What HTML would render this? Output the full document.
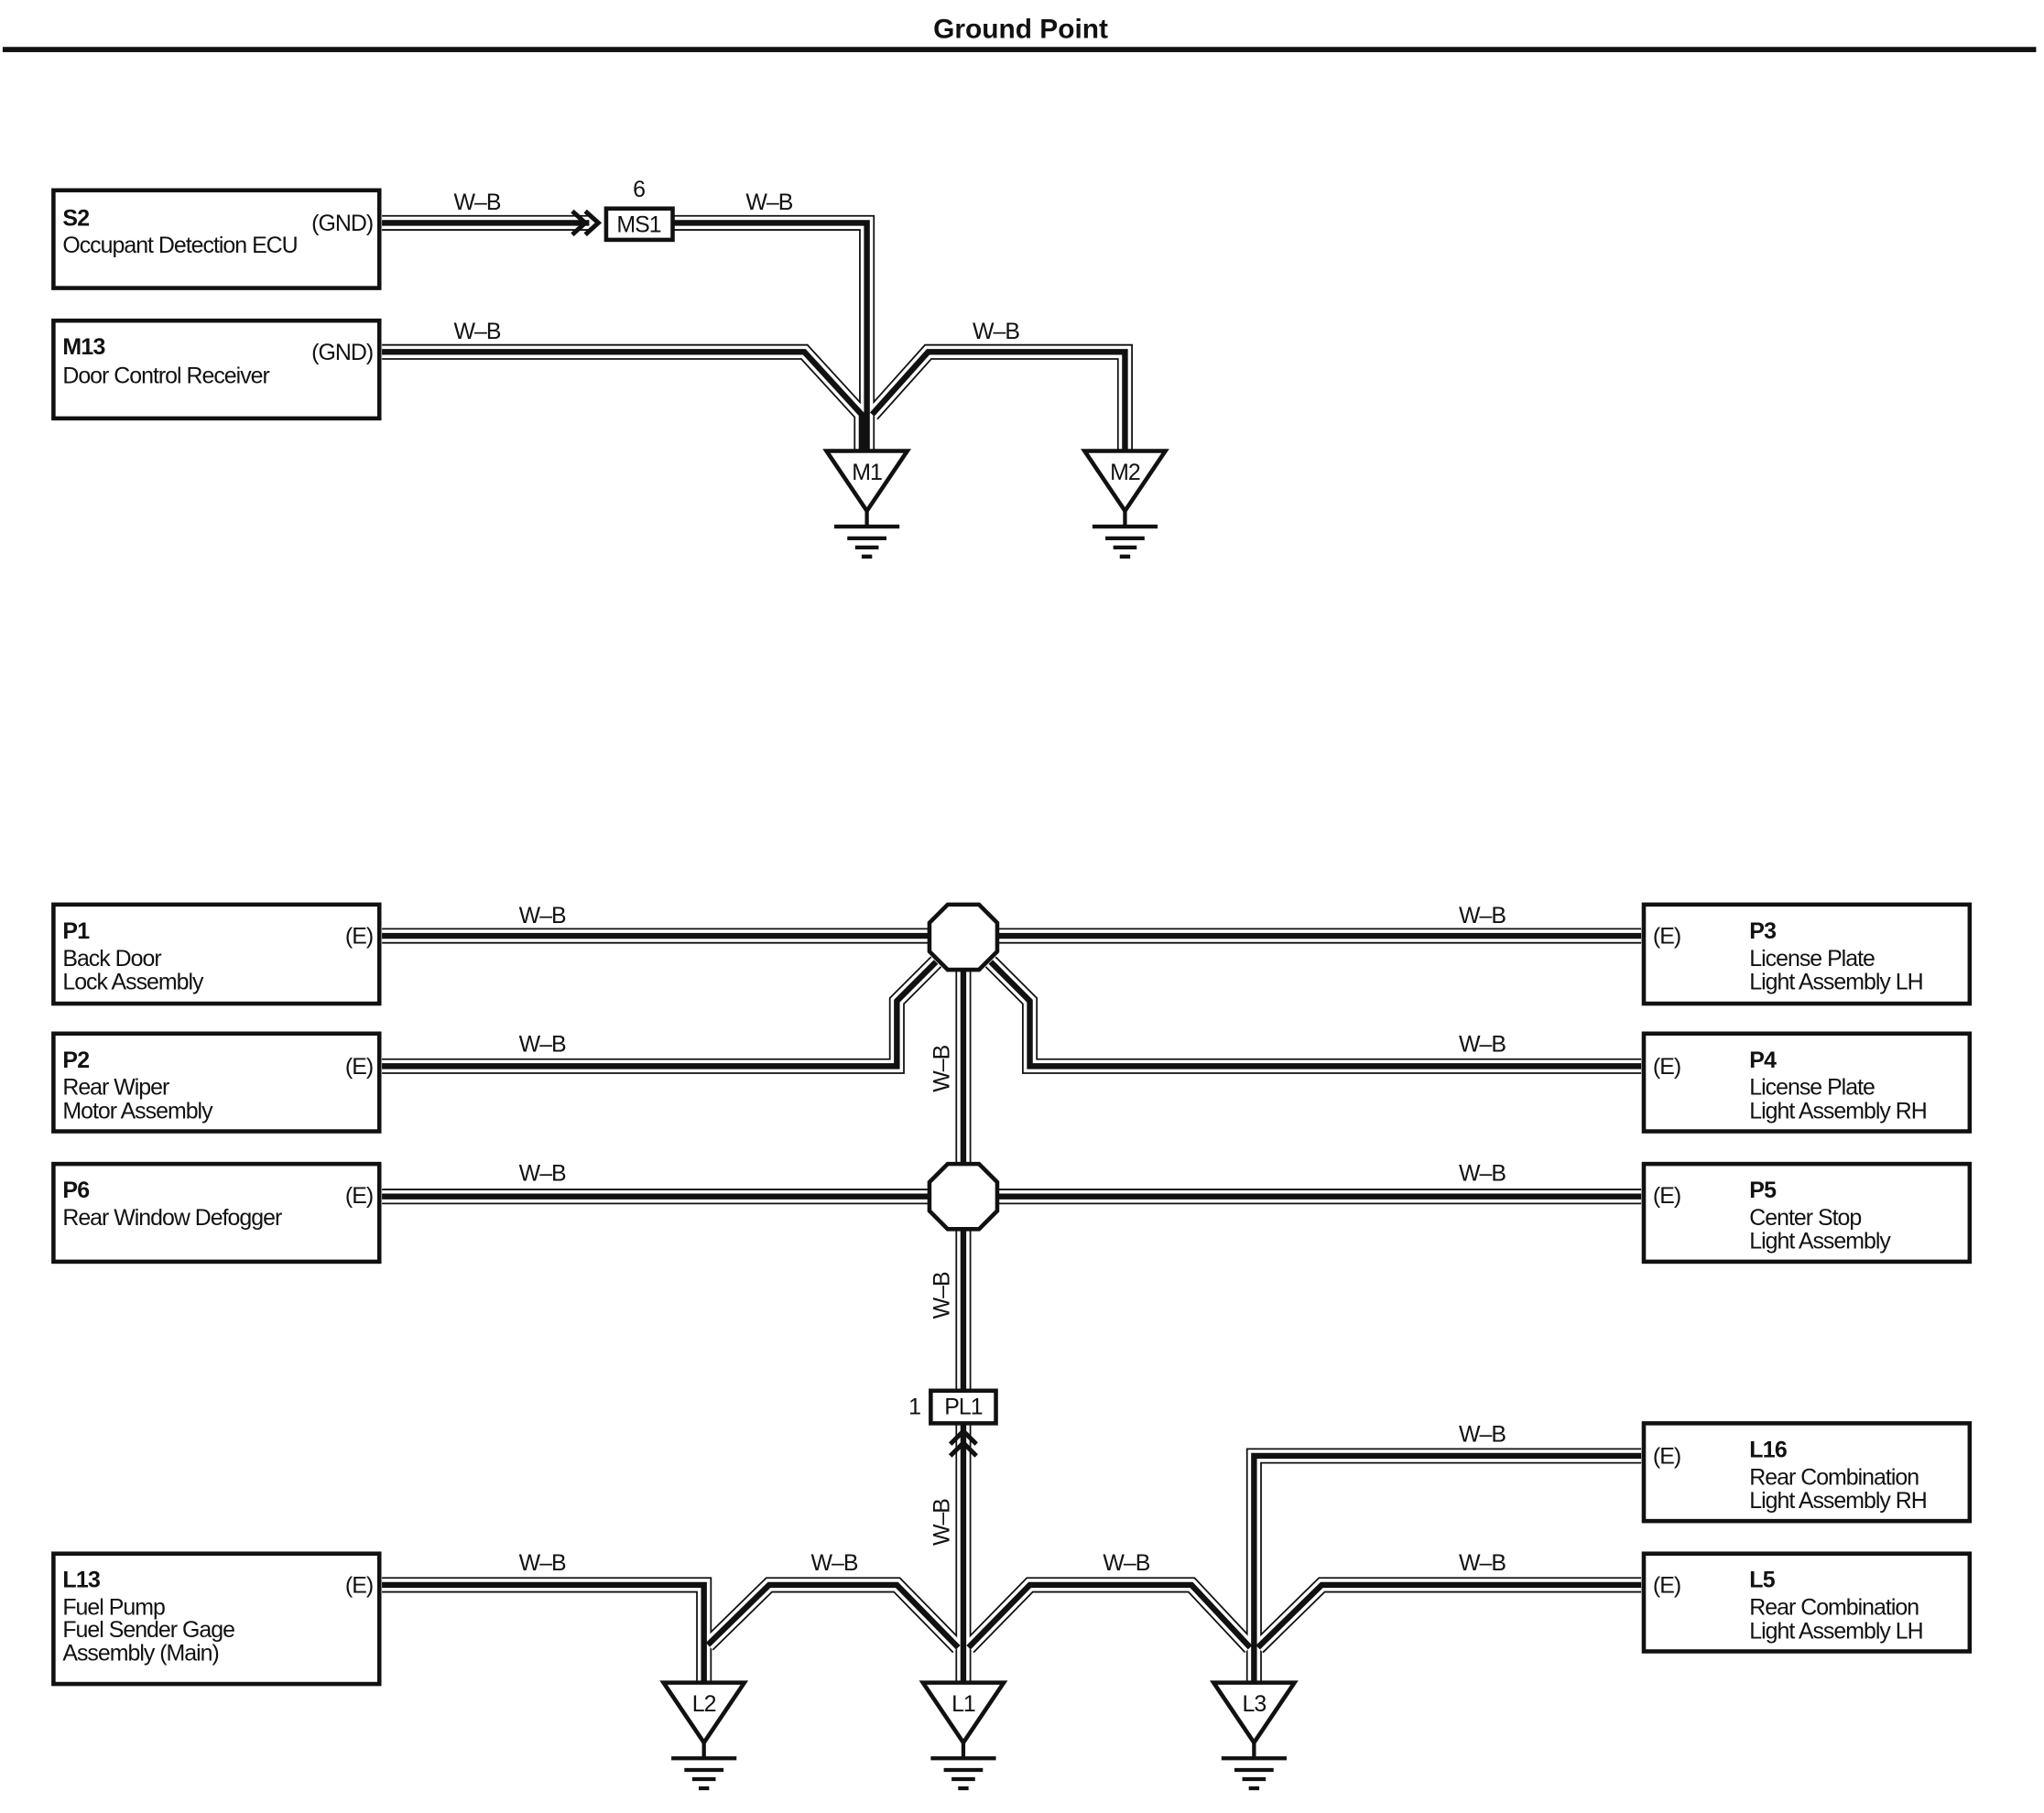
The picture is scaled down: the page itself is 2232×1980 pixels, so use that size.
<!DOCTYPE html>
<html><head><meta charset="utf-8"><style>
html,body{margin:0;padding:0;background:#fff}
svg{display:block}
text{font-family:"Liberation Sans",sans-serif;fill:#111}
.o{fill:none;stroke:#111;stroke-width:12;stroke-linejoin:miter}
.w{fill:none;stroke:#fff;stroke-width:9.5;stroke-linejoin:miter}
.i{fill:none;stroke:#111;stroke-width:4.5;stroke-linejoin:miter}
.box{fill:#fff;stroke:#111;stroke-width:3.2}
.t{font-size:17.5px;letter-spacing:-0.7px}
.b{font-size:17.5px;font-weight:bold;letter-spacing:-0.5px}
.tri{fill:#fff;stroke:#111;stroke-width:3.2;stroke-linejoin:miter}
.g{stroke:#111;stroke-width:3}
</style></head><body>
<svg width="2232" height="1980" viewBox="0 0 1568 1391" xmlns="http://www.w3.org/2000/svg">
<defs>
<path id="w1" d="M293,171 H452"/>
<path id="w2" d="M516,171 H665 V345"/>
<path id="w3" d="M293,270 H617 L661,318 V345"/>
<path id="w4" d="M669,318 L712,270 H863 V345"/>
<path id="w5" d="M293,718 H1259"/>
<path id="w6" d="M293,818 H688 V768 L718,738"/>
<path id="w7" d="M1259,818 H790 V768 L760,738"/>
<path id="w8" d="M739,744 V1067"/>
<path id="w9" d="M293,918 H1259"/>
<path id="w10" d="M739,1092 V1290"/>
<path id="w11" d="M293,1216 H540 V1290"/>
<path id="w12" d="M543,1262 L590,1216 H688 L735,1264"/>
<path id="w13" d="M743,1264 L790,1216 H914 L959,1264"/>
<path id="w14" d="M1259,1216 H1014 L965,1264"/>
<path id="w15" d="M1259,1117 H962 V1290"/>
<g id="ws"><use href="#w1"/><use href="#w2"/><use href="#w3"/><use href="#w4"/><use href="#w5"/><use href="#w6"/><use href="#w7"/><use href="#w8"/><use href="#w9"/><use href="#w10"/><use href="#w11"/><use href="#w12"/><use href="#w13"/><use href="#w14"/><use href="#w15"/></g>
</defs>
<text x="783" y="29" text-anchor="middle" style="font-size:21px;font-weight:bold">Ground Point</text>
<rect x="2" y="36" width="1560" height="4" fill="#111"/>

<use href="#ws" class="o"/>
<use href="#ws" class="w"/>
<use href="#ws" class="i"/>

<path d="M439,162 L449,171 L439,180 M449,162 L459,171 L449,180" fill="none" stroke="#111" stroke-width="3.5"/>
<rect x="465" y="160" width="51" height="24" class="box"/>
<text x="490" y="178" text-anchor="middle" class="t">MS1</text>
<text x="490" y="151" text-anchor="middle" class="t">6</text>

<rect x="41" y="146" width="250" height="75" class="box"/>
<text x="48" y="173" class="b">S2</text>
<text x="48" y="194" class="t">Occupant Detection ECU</text>
<text x="286" y="177" text-anchor="end" class="t">(GND)</text>
<rect x="41" y="246" width="250" height="75" class="box"/>
<text x="48" y="272" class="b">M13</text>
<text x="48" y="294" class="t">Door Control Receiver</text>
<text x="286" y="276" text-anchor="end" class="t">(GND)</text>
<text x="366" y="161" text-anchor="middle" class="t">W–B</text>
<text x="590" y="161" text-anchor="middle" class="t">W–B</text>
<text x="366" y="260" text-anchor="middle" class="t">W–B</text>
<text x="764" y="260" text-anchor="middle" class="t">W–B</text>

<path d="M634,346 H696 L665,392 Z" class="tri"/>
<path d="M665,392 V404 M640,404 H690 M650,413 H680 M656,420 H674 M661,427 H669" class="g"/>
<text x="665" y="368" text-anchor="middle" class="t">M1</text>
<path d="M832,346 H894 L863,392 Z" class="tri"/>
<path d="M863,392 V404 M838,404 H888 M848,413 H878 M854,420 H872 M859,427 H867" class="g"/>
<text x="863" y="368" text-anchor="middle" class="t">M2</text>

<path d="M509,1291 H571 L540,1337 Z" class="tri"/>
<path d="M540,1337 V1349 M515,1349 H565 M525,1358 H555 M531,1365 H549 M536,1372 H544" class="g"/>
<text x="540" y="1313" text-anchor="middle" class="t">L2</text>
<path d="M708,1291 H770 L739,1337 Z" class="tri"/>
<path d="M739,1337 V1349 M714,1349 H764 M724,1358 H754 M730,1365 H748 M735,1372 H743" class="g"/>
<text x="739" y="1313" text-anchor="middle" class="t">L1</text>
<path d="M931,1291 H993 L962,1337 Z" class="tri"/>
<path d="M962,1337 V1349 M937,1349 H987 M947,1358 H977 M953,1365 H971 M958,1372 H966" class="g"/>
<text x="962" y="1313" text-anchor="middle" class="t">L3</text>

<path d="M727,694 H751 L765,708 V730 L751,744 H727 L713,730 V708 Z" class="tri" stroke-width="3.5"/>
<path d="M727,893 H751 L765,907 V929 L751,943 H727 L713,929 V907 Z" class="tri" stroke-width="3.5"/>

<rect x="714" y="1067" width="50" height="25" class="box"/>
<text x="739" y="1085" text-anchor="middle" class="t">PL1</text>
<text x="706" y="1085" text-anchor="end" class="t">1</text>
<path d="M729,1108 L739,1098 L749,1108 M729,1117 L739,1107 L749,1117" fill="none" stroke="#111" stroke-width="3.5"/>

<text transform="translate(728,820) rotate(-90)" text-anchor="middle" class="t">W–B</text>
<text transform="translate(728,994) rotate(-90)" text-anchor="middle" class="t">W–B</text>
<text transform="translate(728,1168) rotate(-90)" text-anchor="middle" class="t">W–B</text>

<g class="t" text-anchor="middle">
<text x="416" y="708">W–B</text><text x="1137" y="708">W–B</text>
<text x="416" y="807">W–B</text><text x="1137" y="807">W–B</text>
<text x="416" y="906">W–B</text><text x="1137" y="906">W–B</text>
<text x="1137" y="1106">W–B</text>
<text x="416" y="1205">W–B</text><text x="640" y="1205">W–B</text>
<text x="864" y="1205">W–B</text><text x="1137" y="1205">W–B</text>
</g>

<rect x="41" y="694" width="250" height="76" class="box"/>
<text x="48" y="720" class="b">P1</text>
<text x="48" y="741" class="t">Back Door</text><text x="48" y="759" class="t">Lock Assembly</text>
<text x="286" y="724" text-anchor="end" class="t">(E)</text>
<rect x="41" y="793" width="250" height="75" class="box"/>
<text x="48" y="819" class="b">P2</text>
<text x="48" y="840" class="t">Rear Wiper</text><text x="48" y="858" class="t">Motor Assembly</text>
<text x="286" y="824" text-anchor="end" class="t">(E)</text>
<rect x="41" y="893" width="250" height="75" class="box"/>
<text x="48" y="919" class="b">P6</text>
<text x="48" y="940" class="t">Rear Window Defogger</text>
<text x="286" y="923" text-anchor="end" class="t">(E)</text>
<rect x="41" y="1192" width="250" height="100" class="box"/>
<text x="48" y="1218" class="b">L13</text>
<text x="48" y="1239" class="t">Fuel Pump</text><text x="48" y="1256" class="t">Fuel Sender Gage</text><text x="48" y="1274" class="t">Assembly (Main)</text>
<text x="286" y="1222" text-anchor="end" class="t">(E)</text>

<rect x="1261" y="694" width="250" height="76" class="box"/>
<text x="1342" y="720" class="b">P3</text>
<text x="1342" y="741" class="t">License Plate</text><text x="1342" y="759" class="t">Light Assembly LH</text>
<text x="1268" y="724" class="t">(E)</text>
<rect x="1261" y="793" width="250" height="75" class="box"/>
<text x="1342" y="819" class="b">P4</text>
<text x="1342" y="840" class="t">License Plate</text><text x="1342" y="858" class="t">Light Assembly RH</text>
<text x="1268" y="824" class="t">(E)</text>
<rect x="1261" y="893" width="250" height="75" class="box"/>
<text x="1342" y="919" class="b">P5</text>
<text x="1342" y="940" class="t">Center Stop</text><text x="1342" y="958" class="t">Light Assembly</text>
<text x="1268" y="923" class="t">(E)</text>
<rect x="1261" y="1092" width="250" height="75" class="box"/>
<text x="1342" y="1118" class="b">L16</text>
<text x="1342" y="1139" class="t">Rear Combination</text><text x="1342" y="1157" class="t">Light Assembly RH</text>
<text x="1268" y="1123" class="t">(E)</text>
<rect x="1261" y="1192" width="250" height="75" class="box"/>
<text x="1342" y="1218" class="b">L5</text>
<text x="1342" y="1239" class="t">Rear Combination</text><text x="1342" y="1257" class="t">Light Assembly LH</text>
<text x="1268" y="1222" class="t">(E)</text>
</svg>
</body></html>
